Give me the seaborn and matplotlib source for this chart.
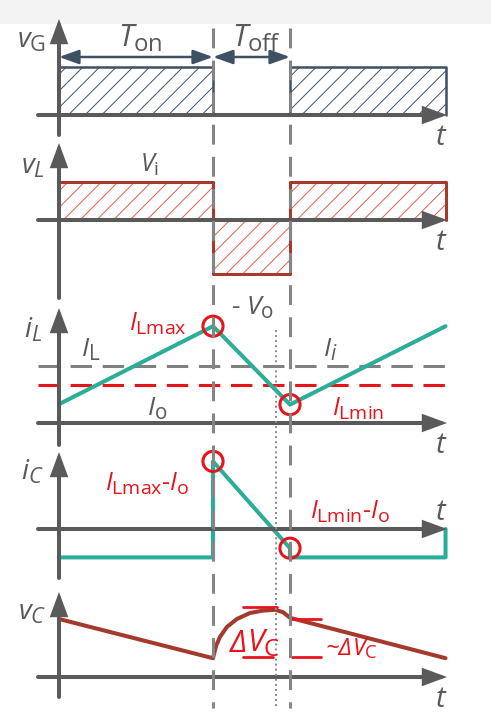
import matplotlib
matplotlib.use("Agg")
import matplotlib.pyplot as plt
import matplotlib._mathtext as mathtext_internal
import seaborn as sns
from matplotlib.patches import FancyArrowPatch, Rectangle
from matplotlib import transforms

#--------------------------------------- STYLE ---------------------------------------#
sns.set_style("white")
plt.rcParams["font.family"] = ["Open Sans", "DejaVu Sans"]
plt.rcParams["mathtext.fontset"] = "custom"
plt.rcParams["mathtext.rm"] = "Open Sans"
plt.rcParams["mathtext.it"] = "Open Sans:italic"
plt.rcParams["mathtext.bf"] = "Open Sans:bold"
plt.rcParams["mathtext.sf"] = "Open Sans"
plt.rcParams["hatch.linewidth"] = 0.7
# subscripts in the drawing are a bit bigger than mathtext's default 70 %
mathtext_internal.SHRINK_FACTOR = 0.78

AX_COL = "#5a5a5a"
DASH_COL = "#858585"
SLATE = "#3e5064"
BROWN = "#a5392b"
HATCH_RED = "#e0604c"
GREEN = "#2aae97"
RED = "#e8141c"

#--------------------------------------- DATA ---------------------------------------#
T_ON = 1.0
T_OFF = 0.5
T_END = 2.51
T_CROSS = 1.41          # i_C crosses zero, v_C at its maximum

t_sw = [0, T_ON, T_ON + T_OFF, T_END, T_END]
vG_lvl = [1.0, 0.0, 1.0, 1.0, 0.0]
vL_lvl = [1.0, -1.42, 1.0, 1.0, 0.0]

iL_t = [0, T_ON, T_ON + T_OFF, T_END]
iL_v = [0.47, 2.42, 0.46, 2.42]
I_o = 0.95
I_L = 1.43

iC_t = [0, T_ON, T_ON, T_ON + T_OFF, T_ON + T_OFF, T_END, T_END]
iC_v = [-0.71, -0.71, 1.69, -0.48, -0.71, -0.71, 0.0]

vC_t = [0, 1.0, 1.02, 1.045, 1.09, 1.155, 1.24, 1.325, 1.405, 1.455, 1.5, T_END]
vC_v = [1.45, 0.47, 0.78, 1.0, 1.25, 1.45, 1.6, 1.66, 1.68, 1.62, 1.48, 0.47]

iL_marks_t = [T_ON, T_ON + T_OFF]
iL_marks_v = [2.42, 0.46]
iC_marks_t = [T_ON, T_ON + T_OFF]
iC_marks_v = [1.69, -0.48]

# delta V_C reference bars (t0, t1, level)
dv_bars = [(1.195, 1.416, 1.75), (1.195, 1.39, 0.5), (1.513, 1.70, 1.45), (1.513, 1.70, 0.5)]

#--------------------------------------- FIGURE ---------------------------------------#
W, H = 491, 715
X_LIM = (-59 / 154, (W - 59) / 154)

fig = plt.figure(figsize=(W / 100, H / 100), dpi=100)
fig.patch.set_facecolor("white")
fig.add_artist(Rectangle((0, 1 - 24 / H), 1, 24 / H, transform=fig.transFigure,
                         facecolor="#f3f3f3", edgecolor="none", zorder=-5))


def panel(top, bot, base, unit):
    ax = fig.add_axes([0, 1 - bot / H, 1, (bot - top) / H])
    ax.set_xlim(*X_LIM)
    ax.set_ylim((base - bot) / unit, (base - top) / unit)
    ax.axis("off")
    return ax


ax_vg = panel(0, 140, 115, 48)
ax_vl = panel(140, 290, 220, 38)
ax_il = panel(290, 440, 423, 40)
ax_ic = panel(440, 585, 529, 40)
ax_vc = panel(585, 715, 677, 40)

# overlay in pixel coordinates for axes arrows, markers and labels
ov = fig.add_axes([0, 0, 1, 1], zorder=5)
ov.set_xlim(0, W)
ov.set_ylim(H, 0)
ov.axis("off")
ov.set_autoscale_on(False)

#--------------------------------------- v_G / v_L ---------------------------------------#
ax_vg.fill_between(t_sw[:-1], vG_lvl[:-1], step="post", facecolor="none",
                   edgecolor=SLATE, hatch="//", lw=0)
ax_vg.plot(t_sw, vG_lvl, drawstyle="steps-post", color=SLATE, lw=1.8)

ax_vl.fill_between(t_sw[:-1], vL_lvl[:-1], step="post", facecolor="none",
                   edgecolor=HATCH_RED, hatch="//", lw=0)
ax_vl.plot(t_sw, vL_lvl, drawstyle="steps-post", color=BROWN, lw=2.2)

#--------------------------------------- i_L ---------------------------------------#
ax_il.axhline(I_L, xmin=38 / W, xmax=447 / W, color="#808080", lw=2.2, ls=(0, (7, 3.5)))
ax_il.axhline(I_o, xmin=38 / W, xmax=447 / W, color=RED, lw=2.2, ls=(0, (7, 3.5)))
sns.lineplot(x=iL_t, y=iL_v, color=GREEN, lw=2.9, sort=False, estimator=None, ax=ax_il)
ax_il.scatter(iL_marks_t, iL_marks_v, s=210, facecolor="none", edgecolor=RED, lw=2.2, zorder=4)

#--------------------------------------- i_C ---------------------------------------#
sns.lineplot(x=iC_t, y=iC_v, color=GREEN, lw=2.9, sort=False, estimator=None, ax=ax_ic)
ax_ic.scatter(iC_marks_t, iC_marks_v, s=210, facecolor="none", edgecolor=RED, lw=2.2, zorder=4)

#--------------------------------------- v_C ---------------------------------------#
sns.lineplot(x=vC_t, y=vC_v, color=BROWN, lw=2.9, sort=False, estimator=None, ax=ax_vc)
for t0, t1, lvl in dv_bars:
    ax_vc.plot([t0, t1], [lvl, lvl], color=RED, lw=2.0)

#--------------------------------------- AXES ARROWS ---------------------------------------#
axes_px = [(115, 19, 135), (220, 143, 298), (423, 308, 445), (529, 452, 578), (677, 592, 697)]
for base, top, bot in axes_px:
    for p0, p1 in [((59, bot), (59, top)), ((38, base), (447, base))]:
        ov.add_patch(FancyArrowPatch(p0, p1, arrowstyle="-|>,head_length=12.5,head_width=4.6",
                                     mutation_scale=1, lw=2.9, color=AX_COL,
                                     shrinkA=0, shrinkB=0, joinstyle="miter"))

# switching instants running through all panels
bt = transforms.blended_transform_factory(ax_vc.transData, ov.transData)
for tm in [T_ON, T_ON + T_OFF]:
    ov.plot([tm, tm], [28, 708], transform=bt, color=DASH_COL, lw=2.2, ls=(0, (6.5, 4)))
ov.plot([T_CROSS, T_CROSS], [330, 708], transform=bt, color="#8a8a8a", lw=1.4, ls=(0, (1, 1.6)))

# T_on / T_off arrows
for t0, t1 in [(0, T_ON), (T_ON, T_ON + T_OFF)]:
    ov.add_patch(FancyArrowPatch((t0, 57), (t1, 57), transform=bt,
                                 arrowstyle="<|-|>,head_length=12,head_width=4.3",
                                 mutation_scale=1, lw=1.8, color=SLATE, shrinkA=0, shrinkB=0))

#--------------------------------------- LABELS ---------------------------------------#
def lab(x, y, s, size, color=AX_COL, ha="center", **kw):
    ov.text(x, y, s, fontsize=size, color=color, ha=ha, va="baseline", **kw)


lab(31, 48, r"$v_\mathrm{G}$", 20)
lab(140, 47, r"$T_\mathrm{on}$", 22)
lab(256, 47, r"$T_\mathrm{off}$", 22)
lab(33, 173, r"$v_L$", 20)
lab(150, 172, r"$V_\mathrm{i}$", 18)
lab(33, 338, r"$i_L$", 20)
lab(32, 480, r"$i_C$", 20)
lab(32, 620, r"$v_C$", 20)
for y in [145, 250, 453, 520, 707]:
    lab(441, y, r"$t$", 21)

lab(253, 315, r"- $V_\mathrm{o}$", 19)
lab(91, 357, r"$I_\mathrm{L}$", 19)
lab(330, 357, r"$I_i$", 19)
lab(157, 416, r"$I_\mathrm{o}$", 19)
lab(158, 331, r"$I_\mathrm{Lmax}$", 18, RED)
lab(358, 416, r"$I_\mathrm{Lmin}$", 18, RED)
lab(147, 491, r"$I_\mathrm{Lmax}$-$I_\mathrm{o}$", 18, RED)
lab(350, 519, r"$I_\mathrm{Lmin}$-$I_\mathrm{o}$", 18, RED)

lab(247, 652, "Δ", 22, RED, ha="right", fontstyle="italic")
lab(247, 652, r"$V_\mathrm{C}$", 22, RED, ha="left")
lab(352, 655, "~Δ", 17, RED, ha="right", fontstyle="italic")
lab(352, 655, r"$V_\mathrm{C}$", 17, RED, ha="left")

plt.savefig("out.png", dpi=100)
